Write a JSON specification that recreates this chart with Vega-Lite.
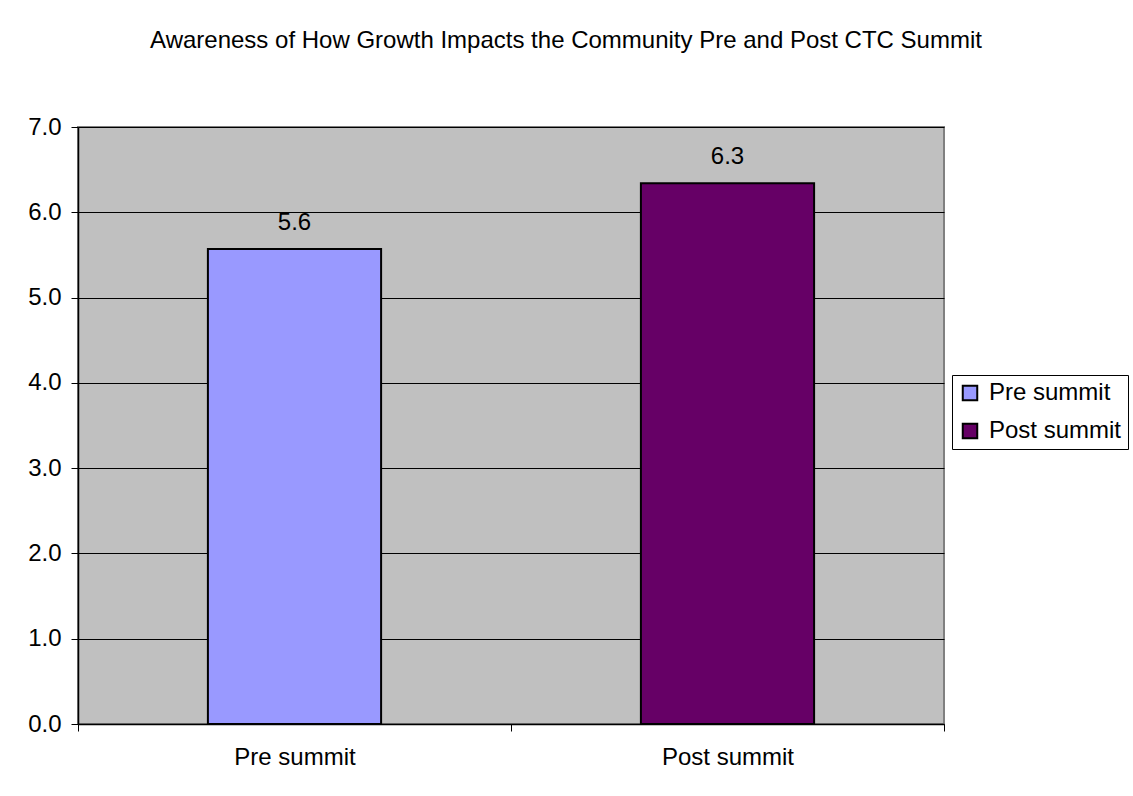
{
  "$schema": "https://vega.github.io/schema/vega-lite/v6.json",
  "autosize": "none",
  "width": 866,
  "height": 597,
  "padding": {"left": 78, "top": 127, "right": 189, "bottom": 72},
  "background": "white",
  "title": {
    "text": "Awareness of How Growth Impacts the Community Pre and Post CTC Summit",
    "font": "Liberation Sans",
    "fontSize": 24,
    "fontWeight": "normal",
    "color": "black",
    "anchor": "middle",
    "frame": "group",
    "dx": 55,
    "offset": 62
  },
  "data": {
    "values": [
      {"period": "Pre summit", "value": 5.57, "label": "5.6"},
      {"period": "Post summit", "value": 6.34, "label": "6.3"}
    ]
  },
  "encoding": {
    "x": {
      "field": "period",
      "type": "nominal",
      "sort": ["Pre summit", "Post summit"],
      "scale": {"paddingInner": 0, "paddingOuter": 0},
      "axis": {
        "title": null,
        "labelAngle": 0,
        "labelFont": "Liberation Sans",
        "labelFontSize": 24,
        "labelColor": "black",
        "labelPadding": 14,
        "tickBand": "extent",
        "tickColor": "black",
        "tickSize": 7,
        "domainColor": "black",
        "domainWidth": 1.5
      }
    },
    "y": {
      "field": "value",
      "type": "quantitative",
      "scale": {"domain": [0, 7]},
      "axis": {
        "title": null,
        "values": [0, 1, 2, 3, 4, 5, 6, 7],
        "labelOverlap": false,
        "format": ".1f",
        "labelFont": "Liberation Sans",
        "labelFontSize": 24,
        "labelColor": "black",
        "labelPadding": 10,
        "tickColor": "black",
        "tickSize": 7,
        "domainColor": "black",
        "domainWidth": 1.5,
        "grid": true,
        "gridColor": "black",
        "gridWidth": 1
      }
    }
  },
  "layer": [
    {
      "mark": {"type": "bar", "width": {"band": 0.4}, "stroke": "black", "strokeWidth": 2},
      "encoding": {
        "color": {
          "field": "period",
          "type": "nominal",
          "scale": {"domain": ["Pre summit", "Post summit"], "range": ["#9999FF", "#660066"]},
          "legend": {
            "title": null,
            "orient": "none",
            "legendX": 874,
            "legendY": 248,
            "symbolType": "square",
            "symbolSize": 210,
            "symbolStrokeColor": "black",
            "symbolStrokeWidth": 2,
            "symbolOpacity": 1,
            "labelFont": "Liberation Sans",
            "labelFontSize": 24,
            "labelColor": "black",
            "labelOffset": 7,
            "rowPadding": 14,
            "padding": 6,
            "strokeColor": "black",
            "fillColor": "white"
          }
        }
      }
    },
    {
      "mark": {"type": "text", "font": "Liberation Sans", "fontSize": 24, "color": "black", "baseline": "alphabetic", "dy": -19},
      "encoding": {
        "text": {"field": "label"}
      }
    }
  ],
  "config": {
    "view": {"fill": "#C0C0C0", "stroke": "#808080", "strokeWidth": 2}
  }
}
